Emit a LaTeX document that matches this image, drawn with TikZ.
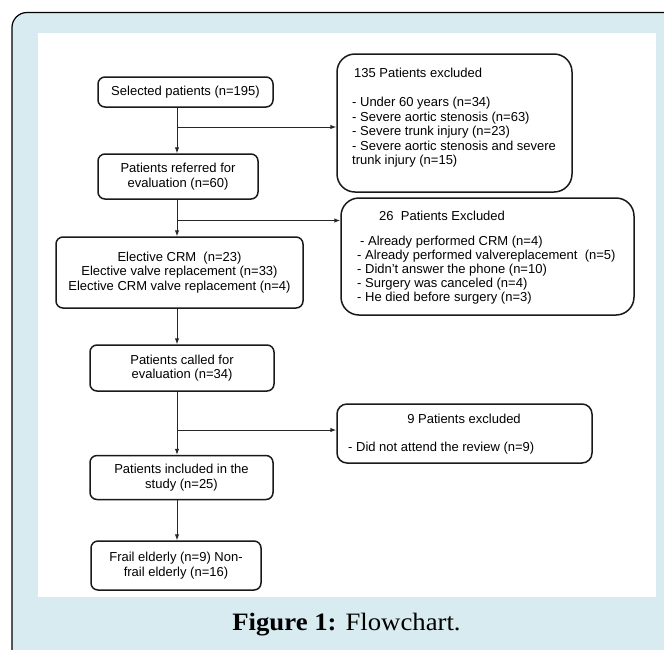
\documentclass[tikz,border=0pt]{standalone}
\usepackage{fontspec}
\setmainfont{Liberation Serif}
\setsansfont{Liberation Sans}
\usetikzlibrary{arrows.meta,positioning,calc}
\definecolor{panelblue}{RGB}{216,235,241}

\begin{document}
\begin{tikzpicture}[
  x=1pt, y=-1pt,
  > = {Latex[length=6pt,width=4.5pt]},
  every node/.style = {font=\sffamily\fontsize{13}{14.5}\selectfont, inner sep=0pt},
  box/.style = {draw=black!90, line width=1.5pt, rounded corners=7pt, align=center},
  exbox/.style = {box, rounded corners=18pt},
  extext/.style = {anchor=north west, align=left},
  flow/.style = {->, line width=1pt, draw=black!85}
  ]
  \useasboundingbox (0,0) rectangle (664,649);
  \clip (0,0) rectangle (664,649);

  % frame and white panel
  \draw[fill=panelblue, line width=1.2pt, rounded corners=15pt] (12,720) -- (12,12.5) -- (720,12.5) -- (720,720) -- cycle;
  \fill[white] (38,33) rectangle (656,597);

  % main column
  \node[box, minimum width=175pt, minimum height=30pt] (selected) at (185.5,92) {Selected patients (n=195)};
  \node[box, minimum width=160pt, minimum height=45pt] (referred) at (178,176.5) {Patients referred for\\evaluation (n=60)};
  \node[box, minimum width=247pt, minimum height=71pt] (elective) at (179.5,272.5) {Elective CRM~ (n=23)\\Elective valve replacement (n=33)\\Elective CRM valve replacement (n=4)};
  \node[box, minimum width=184pt, minimum height=46pt] (called) at (182,368) {Patients called for\\evaluation (n=34)};
  \node[box, minimum width=183pt, minimum height=44pt] (included) at (181.5,477.5) {Patients included in the\\study (n=25)};
  \node[box, minimum width=170pt, minimum height=49pt] (frail) at (176,565.5) {Frail elderly (n=9) Non-\\frail elderly (n=16)};

  % exclusion boxes
  \node[exbox, minimum width=235pt, minimum height=138pt] (excl1) at (454.5,123) {};
  \node[extext, font=\sffamily\fontsize{13}{14.5}\selectfont] (excl1txt) at (352,68) {\hspace*{2pt}135 Patients excluded\\[14.5pt]
    - Under 60 years (n=34)\\
    - Severe aortic stenosis (n=63)\\
    - Severe trunk injury (n=23)\\
    - Severe aortic stenosis and severe\\
    trunk injury (n=15)};

  \node[exbox, minimum width=293pt, minimum height=117pt] (excl2) at (487.5,256.5) {};
  \node[extext, font=\sffamily\fontsize{13}{14}\selectfont] (excl2txt) at (357,211) {\hspace*{22pt}26~ Patients Excluded\\[11pt]
    \hspace*{3pt}- Already performed CRM (n=4)\\
    - Already performed valvereplacement~ (n=5)\\
    - Didn't answer the phone (n=10)\\
    - Surgery was canceled (n=4)\\
    - He died before surgery (n=3)};

  \node[exbox, rounded corners=10pt, minimum width=255pt, minimum height=59pt] (excl3) at (464.5,433.5) {};
  \node[anchor=base] (excl3title) at (464,423.5) {9 Patients excluded};
  \node[anchor=base west] (excl3item) at (348,451.5) {- Did not attend the review (n=9)};

  % connectors
  \coordinate (spine) at (177,0);
  \coordinate (j1) at (177,127);
  \coordinate (j2) at (177,220.5);
  \coordinate (j3) at (177,430);
  \draw[flow] (selected.south -| spine) -- (referred.north -| spine);
  \draw[flow] (referred.south -| spine) -- (elective.north -| spine);
  \draw[flow] (elective.south -| spine) -- (called.north -| spine);
  \draw[flow] (called.south -| spine) -- (included.north -| spine);
  \draw[flow] (included.south -| spine) -- (frail.north -| spine);
  \draw[flow] (j1) -- (j1 -| excl1.west);
  \draw[flow] (j2) -- (j2 -| excl2.west);
  \draw[flow] (j3) -- (j3 -| excl3.west);

  % caption
  \node[anchor=base, font=\rmfamily\fontsize{25}{30}\selectfont] (caption) at (346.5,630) {\scalebox{1.07}[1]{\textbf{Figure 1:} Flowchart.}};
\end{tikzpicture}
\end{document}
